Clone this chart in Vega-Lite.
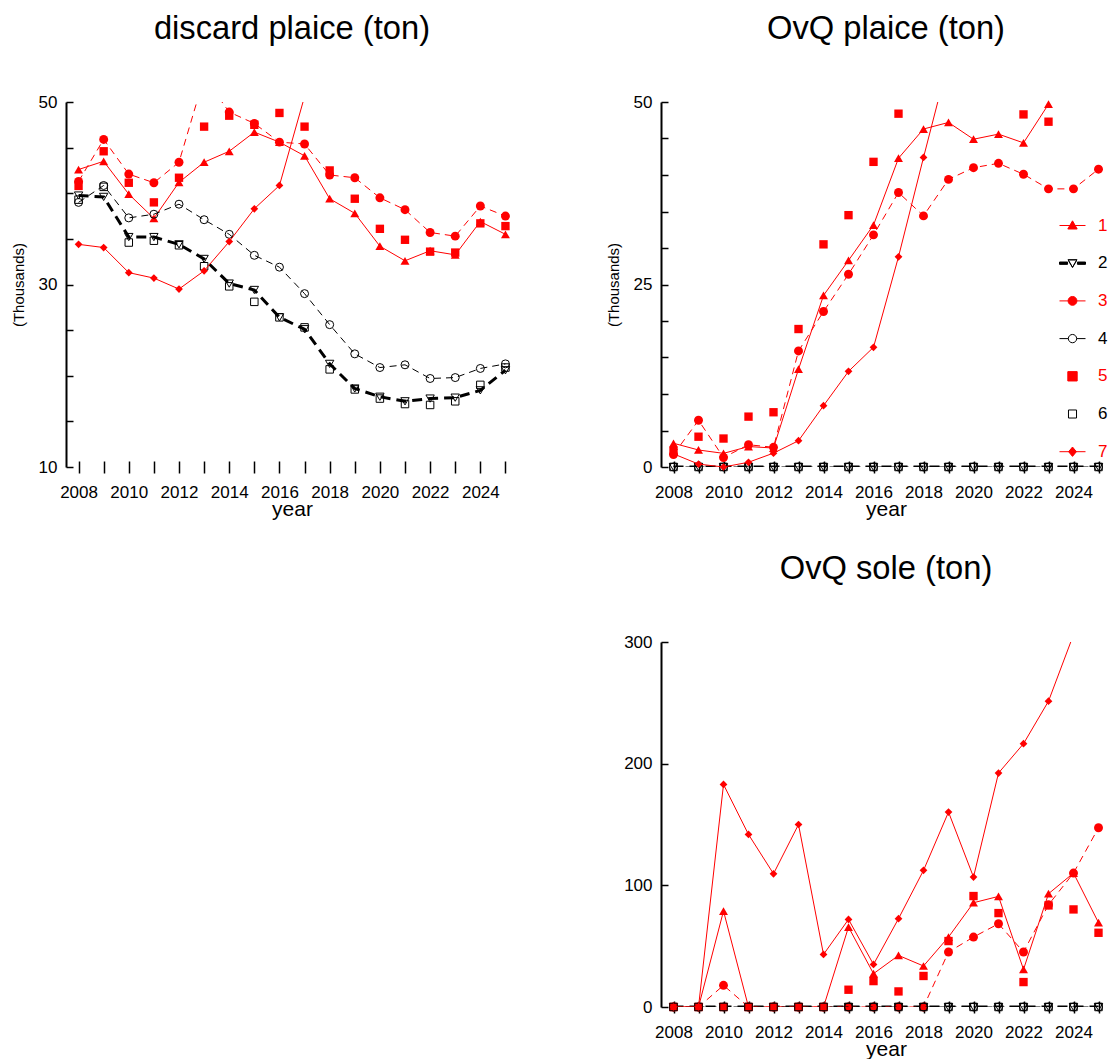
{
"$schema": "https://vega.github.io/schema/vega-lite/v6.json",
"background": "white",
"padding": {"left": 11, "top": 13, "right": 0, "bottom": 0},
"datasets": {
"d": [
{"s":"1","yr":2008,"v":42.6},{"s":"1","yr":2009,"v":43.5},{"s":"1","yr":2010,"v":39.9},{"s":"1","yr":2011,"v":37.25},{"s":"1","yr":2012,"v":41.2},{"s":"1","yr":2013,"v":43.4},{"s":"1","yr":2014,"v":44.6},{"s":"1","yr":2015,"v":46.7},{"s":"1","yr":2016,"v":45.6},{"s":"1","yr":2017,"v":44.1},{"s":"1","yr":2018,"v":39.4},{"s":"1","yr":2019,"v":37.8},{"s":"1","yr":2020,"v":34.2},{"s":"1","yr":2021,"v":32.6},{"s":"1","yr":2022,"v":33.7},{"s":"1","yr":2023,"v":33.25},{"s":"1","yr":2024,"v":36.9},{"s":"1","yr":2025,"v":35.5},
{"s":"2","yr":2008,"v":39.75},{"s":"2","yr":2009,"v":39.6},{"s":"2","yr":2010,"v":35.2},{"s":"2","yr":2011,"v":35.2},{"s":"2","yr":2012,"v":34.4},{"s":"2","yr":2013,"v":32.8},{"s":"2","yr":2014,"v":30.1},{"s":"2","yr":2015,"v":29.4},{"s":"2","yr":2016,"v":26.4},{"s":"2","yr":2017,"v":25.1},{"s":"2","yr":2018,"v":21.3},{"s":"2","yr":2019,"v":18.6},{"s":"2","yr":2020,"v":17.7},{"s":"2","yr":2021,"v":17.2},{"s":"2","yr":2022,"v":17.5},{"s":"2","yr":2023,"v":17.6},{"s":"2","yr":2024,"v":18.4},{"s":"2","yr":2025,"v":20.6},
{"s":"3","yr":2008,"v":41.3},{"s":"3","yr":2009,"v":45.9},{"s":"3","yr":2010,"v":42.1},{"s":"3","yr":2011,"v":41.15},{"s":"3","yr":2012,"v":43.4},{"s":"3","yr":2013,"v":52.7},{"s":"3","yr":2014,"v":48.9},{"s":"3","yr":2015,"v":47.65},{"s":"3","yr":2016,"v":45.6},{"s":"3","yr":2017,"v":45.4},{"s":"3","yr":2018,"v":42.0},{"s":"3","yr":2019,"v":41.7},{"s":"3","yr":2020,"v":39.5},{"s":"3","yr":2021,"v":38.2},{"s":"3","yr":2022,"v":35.7},{"s":"3","yr":2023,"v":35.3},{"s":"3","yr":2024,"v":38.6},{"s":"3","yr":2025,"v":37.5},
{"s":"4","yr":2008,"v":39.0},{"s":"4","yr":2009,"v":40.85},{"s":"4","yr":2010,"v":37.3},{"s":"4","yr":2011,"v":37.7},{"s":"4","yr":2012,"v":38.8},{"s":"4","yr":2013,"v":37.1},{"s":"4","yr":2014,"v":35.5},{"s":"4","yr":2015,"v":33.2},{"s":"4","yr":2016,"v":31.9},{"s":"4","yr":2017,"v":29.0},{"s":"4","yr":2018,"v":25.6},{"s":"4","yr":2019,"v":22.4},{"s":"4","yr":2020,"v":20.9},{"s":"4","yr":2021,"v":21.2},{"s":"4","yr":2022,"v":19.7},{"s":"4","yr":2023,"v":19.8},{"s":"4","yr":2024,"v":20.8},{"s":"4","yr":2025,"v":21.3},
{"s":"5","yr":2008,"v":40.8},{"s":"5","yr":2009,"v":44.6},{"s":"5","yr":2010,"v":41.15},{"s":"5","yr":2011,"v":39.0},{"s":"5","yr":2012,"v":41.7},{"s":"5","yr":2013,"v":47.3},{"s":"5","yr":2014,"v":48.5},{"s":"5","yr":2015,"v":47.5},{"s":"5","yr":2016,"v":48.8},{"s":"5","yr":2017,"v":47.3},{"s":"5","yr":2018,"v":42.5},{"s":"5","yr":2019,"v":39.4},{"s":"5","yr":2020,"v":36.1},{"s":"5","yr":2021,"v":34.9},{"s":"5","yr":2022,"v":33.6},{"s":"5","yr":2023,"v":33.5},{"s":"5","yr":2024,"v":36.7},{"s":"5","yr":2025,"v":36.4},
{"s":"6","yr":2008,"v":39.3},{"s":"6","yr":2009,"v":40.7},{"s":"6","yr":2010,"v":34.6},{"s":"6","yr":2011,"v":34.8},{"s":"6","yr":2012,"v":34.3},{"s":"6","yr":2013,"v":32.0},{"s":"6","yr":2014,"v":29.8},{"s":"6","yr":2015,"v":28.1},{"s":"6","yr":2016,"v":26.4},{"s":"6","yr":2017,"v":25.3},{"s":"6","yr":2018,"v":20.7},{"s":"6","yr":2019,"v":18.5},{"s":"6","yr":2020,"v":17.5},{"s":"6","yr":2021,"v":16.9},{"s":"6","yr":2022,"v":16.8},{"s":"6","yr":2023,"v":17.2},{"s":"6","yr":2024,"v":19.0},{"s":"6","yr":2025,"v":20.9},
{"s":"7","yr":2008,"v":34.4},{"s":"7","yr":2009,"v":34.05},{"s":"7","yr":2010,"v":31.3},{"s":"7","yr":2011,"v":30.7},{"s":"7","yr":2012,"v":29.5},{"s":"7","yr":2013,"v":31.5},{"s":"7","yr":2014,"v":34.7},{"s":"7","yr":2015,"v":38.3},{"s":"7","yr":2016,"v":40.85},{"s":"7","yr":2017,"v":50.6}
],
"o": [
{"s":"1","yr":2008,"v":3.25},{"s":"1","yr":2009,"v":2.33},{"s":"1","yr":2010,"v":1.87},{"s":"1","yr":2011,"v":2.8},{"s":"1","yr":2012,"v":2.6},{"s":"1","yr":2013,"v":13.4},{"s":"1","yr":2014,"v":23.5},{"s":"1","yr":2015,"v":28.3},{"s":"1","yr":2016,"v":33.15},{"s":"1","yr":2017,"v":42.3},{"s":"1","yr":2018,"v":46.3},{"s":"1","yr":2019,"v":47.2},{"s":"1","yr":2020,"v":44.9},{"s":"1","yr":2021,"v":45.6},{"s":"1","yr":2022,"v":44.4},{"s":"1","yr":2023,"v":49.7},
{"s":"2","yr":2008,"v":0},{"s":"2","yr":2009,"v":0},{"s":"2","yr":2010,"v":0},{"s":"2","yr":2011,"v":0},{"s":"2","yr":2012,"v":0},{"s":"2","yr":2013,"v":0},{"s":"2","yr":2014,"v":0},{"s":"2","yr":2015,"v":0},{"s":"2","yr":2016,"v":0},{"s":"2","yr":2017,"v":0},{"s":"2","yr":2018,"v":0},{"s":"2","yr":2019,"v":0},{"s":"2","yr":2020,"v":0},{"s":"2","yr":2021,"v":0},{"s":"2","yr":2022,"v":0},{"s":"2","yr":2023,"v":0},{"s":"2","yr":2024,"v":0},{"s":"2","yr":2025,"v":0},
{"s":"3","yr":2008,"v":1.7},{"s":"3","yr":2009,"v":6.4},{"s":"3","yr":2010,"v":1.3},{"s":"3","yr":2011,"v":3.05},{"s":"3","yr":2012,"v":2.7},{"s":"3","yr":2013,"v":15.9},{"s":"3","yr":2014,"v":21.3},{"s":"3","yr":2015,"v":26.4},{"s":"3","yr":2016,"v":31.8},{"s":"3","yr":2017,"v":37.6},{"s":"3","yr":2018,"v":34.4},{"s":"3","yr":2019,"v":39.4},{"s":"3","yr":2020,"v":41.0},{"s":"3","yr":2021,"v":41.6},{"s":"3","yr":2022,"v":40.1},{"s":"3","yr":2023,"v":38.1},{"s":"3","yr":2024,"v":38.1},{"s":"3","yr":2025,"v":40.8},
{"s":"4","yr":2008,"v":0},{"s":"4","yr":2009,"v":0},{"s":"4","yr":2010,"v":0},{"s":"4","yr":2011,"v":0},{"s":"4","yr":2012,"v":0},{"s":"4","yr":2013,"v":0},{"s":"4","yr":2014,"v":0},{"s":"4","yr":2015,"v":0},{"s":"4","yr":2016,"v":0},{"s":"4","yr":2017,"v":0},{"s":"4","yr":2018,"v":0},{"s":"4","yr":2019,"v":0},{"s":"4","yr":2020,"v":0},{"s":"4","yr":2021,"v":0},{"s":"4","yr":2022,"v":0},{"s":"4","yr":2023,"v":0},{"s":"4","yr":2024,"v":0},{"s":"4","yr":2025,"v":0},
{"s":"5","yr":2008,"v":2.2},{"s":"5","yr":2009,"v":4.15},{"s":"5","yr":2010,"v":3.9},{"s":"5","yr":2011,"v":6.9},{"s":"5","yr":2012,"v":7.5},{"s":"5","yr":2013,"v":18.9},{"s":"5","yr":2014,"v":30.5},{"s":"5","yr":2015,"v":34.5},{"s":"5","yr":2016,"v":41.8},{"s":"5","yr":2017,"v":48.4},{"s":"5","yr":2022,"v":48.3},{"s":"5","yr":2023,"v":47.3},
{"s":"6","yr":2008,"v":0},{"s":"6","yr":2009,"v":0},{"s":"6","yr":2010,"v":0},{"s":"6","yr":2011,"v":0},{"s":"6","yr":2012,"v":0},{"s":"6","yr":2013,"v":0},{"s":"6","yr":2014,"v":0},{"s":"6","yr":2015,"v":0},{"s":"6","yr":2016,"v":0},{"s":"6","yr":2017,"v":0},{"s":"6","yr":2018,"v":0},{"s":"6","yr":2019,"v":0},{"s":"6","yr":2020,"v":0},{"s":"6","yr":2021,"v":0},{"s":"6","yr":2022,"v":0},{"s":"6","yr":2023,"v":0},{"s":"6","yr":2024,"v":0},{"s":"6","yr":2025,"v":0},
{"s":"7","yr":2008,"v":1.8},{"s":"7","yr":2009,"v":0.4},{"s":"7","yr":2010,"v":0},{"s":"7","yr":2011,"v":0.65},{"s":"7","yr":2012,"v":1.9},{"s":"7","yr":2013,"v":3.6},{"s":"7","yr":2014,"v":8.4},{"s":"7","yr":2015,"v":13.1},{"s":"7","yr":2016,"v":16.4},{"s":"7","yr":2017,"v":28.8},{"s":"7","yr":2018,"v":42.4},{"s":"7","yr":2019,"v":55.7}
],
"s": [
{"s":"1","yr":2008,"v":0},{"s":"1","yr":2009,"v":0},{"s":"1","yr":2010,"v":78.9},{"s":"1","yr":2011,"v":0},{"s":"1","yr":2012,"v":0},{"s":"1","yr":2013,"v":0},{"s":"1","yr":2014,"v":0},{"s":"1","yr":2015,"v":65.7},{"s":"1","yr":2016,"v":27.4},{"s":"1","yr":2017,"v":42.4},{"s":"1","yr":2018,"v":33.7},{"s":"1","yr":2019,"v":57.5},{"s":"1","yr":2020,"v":85.7},{"s":"1","yr":2021,"v":90.9},{"s":"1","yr":2022,"v":30.9},{"s":"1","yr":2023,"v":93.1},{"s":"1","yr":2024,"v":110.1},{"s":"1","yr":2025,"v":69.3},
{"s":"2","yr":2008,"v":0},{"s":"2","yr":2009,"v":0},{"s":"2","yr":2010,"v":0},{"s":"2","yr":2011,"v":0},{"s":"2","yr":2012,"v":0},{"s":"2","yr":2013,"v":0},{"s":"2","yr":2014,"v":0},{"s":"2","yr":2015,"v":0},{"s":"2","yr":2016,"v":0},{"s":"2","yr":2017,"v":0},{"s":"2","yr":2018,"v":0},{"s":"2","yr":2019,"v":0},{"s":"2","yr":2020,"v":0},{"s":"2","yr":2021,"v":0},{"s":"2","yr":2022,"v":0},{"s":"2","yr":2023,"v":0},{"s":"2","yr":2024,"v":0},{"s":"2","yr":2025,"v":0},
{"s":"3","yr":2008,"v":0},{"s":"3","yr":2009,"v":0},{"s":"3","yr":2010,"v":17.8},{"s":"3","yr":2011,"v":0},{"s":"3","yr":2012,"v":0},{"s":"3","yr":2013,"v":0},{"s":"3","yr":2014,"v":0},{"s":"3","yr":2015,"v":0},{"s":"3","yr":2016,"v":0},{"s":"3","yr":2017,"v":0},{"s":"3","yr":2018,"v":0},{"s":"3","yr":2019,"v":45.2},{"s":"3","yr":2020,"v":57.5},{"s":"3","yr":2021,"v":68.4},{"s":"3","yr":2022,"v":45.2},{"s":"3","yr":2023,"v":84},{"s":"3","yr":2024,"v":110.1},{"s":"3","yr":2025,"v":147.3},
{"s":"4","yr":2008,"v":0},{"s":"4","yr":2009,"v":0},{"s":"4","yr":2010,"v":0},{"s":"4","yr":2011,"v":0},{"s":"4","yr":2012,"v":0},{"s":"4","yr":2013,"v":0},{"s":"4","yr":2014,"v":0},{"s":"4","yr":2015,"v":0},{"s":"4","yr":2016,"v":0},{"s":"4","yr":2017,"v":0},{"s":"4","yr":2018,"v":0},{"s":"4","yr":2019,"v":0},{"s":"4","yr":2020,"v":0},{"s":"4","yr":2021,"v":0},{"s":"4","yr":2022,"v":0},{"s":"4","yr":2023,"v":0},{"s":"4","yr":2024,"v":0},{"s":"4","yr":2025,"v":0},
{"s":"5","yr":2008,"v":0},{"s":"5","yr":2009,"v":0},{"s":"5","yr":2010,"v":0},{"s":"5","yr":2011,"v":0},{"s":"5","yr":2012,"v":0},{"s":"5","yr":2013,"v":0},{"s":"5","yr":2014,"v":0},{"s":"5","yr":2015,"v":14.2},{"s":"5","yr":2016,"v":21.3},{"s":"5","yr":2017,"v":12.8},{"s":"5","yr":2018,"v":25.5},{"s":"5","yr":2019,"v":54.2},{"s":"5","yr":2020,"v":91.2},{"s":"5","yr":2021,"v":77.2},{"s":"5","yr":2022,"v":20.5},{"s":"5","yr":2023,"v":83.5},{"s":"5","yr":2024,"v":80.2},{"s":"5","yr":2025,"v":61.0},
{"s":"6","yr":2008,"v":0},{"s":"6","yr":2009,"v":0},{"s":"6","yr":2010,"v":0},{"s":"6","yr":2011,"v":0},{"s":"6","yr":2012,"v":0},{"s":"6","yr":2013,"v":0},{"s":"6","yr":2014,"v":0},{"s":"6","yr":2015,"v":0},{"s":"6","yr":2016,"v":0},{"s":"6","yr":2017,"v":0},{"s":"6","yr":2018,"v":0},{"s":"6","yr":2019,"v":0},{"s":"6","yr":2020,"v":0},{"s":"6","yr":2021,"v":0},{"s":"6","yr":2022,"v":0},{"s":"6","yr":2023,"v":0},{"s":"6","yr":2024,"v":0},{"s":"6","yr":2025,"v":0},
{"s":"7","yr":2008,"v":0},{"s":"7","yr":2009,"v":0},{"s":"7","yr":2010,"v":182.9},{"s":"7","yr":2011,"v":141.8},{"s":"7","yr":2012,"v":109.5},{"s":"7","yr":2013,"v":150.0},{"s":"7","yr":2014,"v":43.2},{"s":"7","yr":2015,"v":72.0},{"s":"7","yr":2016,"v":35.0},{"s":"7","yr":2017,"v":72.6},{"s":"7","yr":2018,"v":112.3},{"s":"7","yr":2019,"v":160.2},{"s":"7","yr":2020,"v":106.8},{"s":"7","yr":2021,"v":192.3},{"s":"7","yr":2022,"v":216.4},{"s":"7","yr":2023,"v":251.4},{"s":"7","yr":2024,"v":306}
]
},
"config": {
  "view": {"stroke": null},
  "font": "Liberation Sans",
  "axis": {"labelFont": "Liberation Sans", "titleFont": "Liberation Sans", "labelColor": "#000000", "titleColor": "#000000", "domainColor": "#000000", "tickColor": "#000000", "grid": false, "labelFontSize": 17, "titleFontWeight": "normal", "labelOverlap": false, "labelFlush": false},
  "title": {"font": "Liberation Sans", "fontSize": 32.7, "fontWeight": "normal", "color": "#000000", "offset": 47, "anchor": "middle", "frame": "group"},
  "legend": {"labelFont": "Liberation Sans"}
},
"hconcat": [
{
  "width": 452, "height": 365,
  "title": "discard plaice (ton)",
  "data": {"name": "d"},
  "encoding": {
    "x": {"field": "yr", "type": "quantitative", "scale": {"domain": [2007.5, 2025.5], "nice": false, "zero": false},
      "axis": {"values": [2008,2009,2010,2011,2012,2013,2014,2015,2016,2017,2018,2019,2020,2021,2022,2023,2024,2025], "format": "d", "labelExpr": "datum.value % 2 == 0 ? datum.label : ''", "domain": false, "offset": -6, "tickSize": 12, "tickWidth": 1.5, "labelPadding": 11, "title": "year", "titleFontSize": 21, "titlePadding": -2}},
    "y": {"field": "v", "type": "quantitative", "scale": {"domain": [10, 50], "nice": false, "zero": false},
      "axis": {"values": [10,15,20,25,30,35,40,45,50], "labelExpr": "datum.value % 20 == 10 ? datum.label : ''", "tickSize": -7, "tickWidth": 1.5, "domainWidth": 2, "labelPadding": 16, "title": "(Thousands)", "titleFontSize": 15, "titlePadding": 12}}
  },
  "layer": [
    {"data": {"values": [{}]}, "mark": {"type": "rule", "color": "#000000", "strokeWidth": 2}, "encoding": {"x": {"datum": 2007.5}, "x2": {"datum": 2025.5}, "y": {"datum": 10}}},
    {"transform": [{"filter": "datum.s == '1'"}], "mark": {"type": "line", "color": "#ff0000", "strokeWidth": 1, "clip": true}, "encoding": {}},
    {"transform": [{"filter": "datum.s == '1' && datum.v <= 50"}], "mark": {"type": "point", "shape": "triangle-up", "size": 80, "filled": true, "color": "#ff0000", "opacity": 1}},
    {"transform": [{"filter": "datum.s == '2'"}], "mark": {"type": "line", "color": "#000000", "strokeWidth": 3, "strokeDash": [10, 6], "clip": true}, "encoding": {}},
    {"transform": [{"filter": "datum.s == '2' && datum.v <= 50"}], "mark": {"type": "point", "shape": "triangle-down", "size": 70, "filled": false, "color": "#000000", "strokeWidth": 1, "opacity": 1}},
    {"transform": [{"filter": "datum.s == '3'"}], "mark": {"type": "line", "color": "#ff0000", "strokeWidth": 1, "strokeDash": [7, 5], "clip": true}, "encoding": {}},
    {"transform": [{"filter": "datum.s == '3' && datum.v <= 50"}], "mark": {"type": "point", "shape": "circle", "size": 80, "filled": true, "color": "#ff0000", "opacity": 1}},
    {"transform": [{"filter": "datum.s == '4'"}], "mark": {"type": "line", "color": "#000000", "strokeWidth": 1, "strokeDash": [7, 5], "clip": true}, "encoding": {}},
    {"transform": [{"filter": "datum.s == '4' && datum.v <= 50"}], "mark": {"type": "point", "shape": "circle", "size": 64, "filled": false, "color": "#000000", "strokeWidth": 1, "opacity": 1}},
    {"transform": [{"filter": "datum.s == '5' && datum.v <= 50"}], "mark": {"type": "point", "shape": "square", "size": 70, "filled": true, "color": "#ff0000", "opacity": 1}},
    {"transform": [{"filter": "datum.s == '6' && datum.v <= 50"}], "mark": {"type": "point", "shape": "square", "size": 56, "filled": false, "color": "#000000", "strokeWidth": 1, "opacity": 1}},
    {"transform": [{"filter": "datum.s == '7'"}], "mark": {"type": "line", "color": "#ff0000", "strokeWidth": 1, "clip": true}, "encoding": {}},
    {"transform": [{"filter": "datum.s == '7' && datum.v <= 50"}], "mark": {"type": "point", "shape": "diamond", "size": 60, "filled": true, "color": "#ff0000", "opacity": 1}}
  ]
},
{
  "spacing": 175,
  "bounds": "flush",
  "vconcat": [
  {
    "width": 450, "height": 365,
    "title": "OvQ plaice (ton)",
    "data": {"name": "o"},
    "encoding": {
      "x": {"field": "yr", "type": "quantitative", "scale": {"domain": [2007.5, 2025.5], "nice": false, "zero": false},
        "axis": {"values": [2008,2009,2010,2011,2012,2013,2014,2015,2016,2017,2018,2019,2020,2021,2022,2023,2024,2025], "format": "d", "labelExpr": "datum.value % 2 == 0 ? datum.label : ''", "domain": false, "offset": -6, "tickSize": 12, "tickWidth": 1.5, "labelPadding": 11, "title": "year", "titleFontSize": 21, "titlePadding": -2}},
      "y": {"field": "v", "type": "quantitative", "scale": {"domain": [0, 50], "nice": false, "zero": false},
        "axis": {"values": [0,5,10,15,20,25,30,35,40,45,50], "labelExpr": "datum.value % 25 == 0 ? datum.label : ''", "tickSize": -7, "tickWidth": 1.5, "domainWidth": 2, "labelPadding": 16, "title": "(Thousands)", "titleFontSize": 15, "titlePadding": 12}}
    },
    "layer": [
      {"data": {"values": [{}]}, "mark": {"type": "rule", "color": "#000000", "strokeWidth": 2}, "encoding": {"x": {"datum": 2007.5}, "x2": {"datum": 2025.5}, "y": {"datum": 0}}},
      {"transform": [{"filter": "datum.s == '1'"}], "mark": {"type": "line", "color": "#ff0000", "strokeWidth": 1, "clip": true}, "encoding": {}},
      {"transform": [{"filter": "datum.s == '1' && datum.v <= 50"}], "mark": {"type": "point", "shape": "triangle-up", "size": 80, "filled": true, "color": "#ff0000", "opacity": 1}},
      {"transform": [{"filter": "datum.s == '2'"}], "mark": {"type": "line", "color": "#000000", "strokeWidth": 3, "strokeDash": [10, 6], "clip": true}, "encoding": {}},
      {"transform": [{"filter": "datum.s == '2' && datum.v <= 50"}], "mark": {"type": "point", "shape": "triangle-down", "size": 70, "filled": false, "color": "#000000", "strokeWidth": 1, "opacity": 1}},
      {"transform": [{"filter": "datum.s == '3'"}], "mark": {"type": "line", "color": "#ff0000", "strokeWidth": 1, "strokeDash": [7, 5], "clip": true}, "encoding": {}},
      {"transform": [{"filter": "datum.s == '3' && datum.v <= 50"}], "mark": {"type": "point", "shape": "circle", "size": 80, "filled": true, "color": "#ff0000", "opacity": 1}},
      {"transform": [{"filter": "datum.s == '4'"}], "mark": {"type": "line", "color": "#000000", "strokeWidth": 1, "strokeDash": [7, 5], "clip": true}, "encoding": {}},
      {"transform": [{"filter": "datum.s == '4' && datum.v <= 50"}], "mark": {"type": "point", "shape": "circle", "size": 64, "filled": false, "color": "#000000", "strokeWidth": 1, "opacity": 1}},
      {"transform": [{"filter": "datum.s == '5' && datum.v <= 50"}], "mark": {"type": "point", "shape": "square", "size": 70, "filled": true, "color": "#ff0000", "opacity": 1}},
      {"transform": [{"filter": "datum.s == '6' && datum.v <= 50"}], "mark": {"type": "point", "shape": "square", "size": 56, "filled": false, "color": "#000000", "strokeWidth": 1, "opacity": 1}},
      {"transform": [{"filter": "datum.s == '7'"}], "mark": {"type": "line", "color": "#ff0000", "strokeWidth": 1, "clip": true}, "encoding": {}},
      {"transform": [{"filter": "datum.s == '7' && datum.v <= 50"}], "mark": {"type": "point", "shape": "diamond", "size": 60, "filled": true, "color": "#ff0000", "opacity": 1}},
      {"transform": [{"filter": "datum.v <= 50"}], "mark": {"type": "point", "opacity": 0, "size": 676, "clip": true},
        "encoding": {
          "shape": {"field": "s", "type": "nominal",
            "scale": {"domain": ["1","2","3","4","5","6","7"], "range": [
              "M-1,0H1M0,-0.36L0.36,0.27L-0.36,0.27Z",
              "M-1,-0.09H-0.38V0.09H-1ZM0.38,-0.09H1V0.09H0.38ZM-0.34,-0.26H0.34L0,0.32ZM-0.34,-0.26L0,0.32L0.34,-0.26Z",
              "M-1,0H1M-0.34,0A0.34,0.34,0,1,1,0.34,0A0.34,0.34,0,1,1,-0.34,0Z",
              "M-1,0H-0.32M0.32,0H1M-0.32,0A0.32,0.32,0,1,1,0.32,0A0.32,0.32,0,1,1,-0.32,0",
              "M-0.36,-0.36H0.36V0.36H-0.36Z",
              "M-0.31,-0.31H0.31V0.31H-0.31Z",
              "M-1,0H1M0,-0.36L0.3,0L0,0.36L-0.3,0Z"]},
            "legend": {"title": null, "orient": "none", "direction": "vertical", "legendX": 993, "legendY": 110, "padding": 0, "symbolSize": 676, "symbolStrokeWidth": 1, "symbolOpacity": 1, "symbolFillColor": "#ff0000", "symbolStrokeColor": "#ff0000", "labelFontSize": 17, "labelOffset": 12, "rowPadding": 15.7, "labelColor": {"expr": "(datum.value == '2' || datum.value == '4' || datum.value == '6') ? '#000000' : '#ff0000'"}}},
          "fill": {"field": "s", "type": "nominal",
            "scale": {"domain": ["1","2","3","4","5","6","7"], "range": ["#ff0000","#000000","#ff0000","transparent","#ff0000","transparent","#ff0000"]},
            "legend": {"title": null, "orient": "none", "direction": "vertical", "legendX": 993, "legendY": 110, "padding": 0, "symbolSize": 676, "symbolStrokeWidth": 1, "symbolOpacity": 1, "symbolFillColor": "#ff0000", "symbolStrokeColor": "#ff0000", "labelFontSize": 17, "labelOffset": 12, "rowPadding": 15.7, "labelColor": {"expr": "(datum.value == '2' || datum.value == '4' || datum.value == '6') ? '#000000' : '#ff0000'"}}},
          "stroke": {"field": "s", "type": "nominal",
            "scale": {"domain": ["1","2","3","4","5","6","7"], "range": ["#ff0000","#000000","#ff0000","#000000","#ff0000","#000000","#ff0000"]},
            "legend": {"title": null, "orient": "none", "direction": "vertical", "legendX": 993, "legendY": 110, "padding": 0, "symbolSize": 676, "symbolStrokeWidth": 1, "symbolOpacity": 1, "symbolFillColor": "#ff0000", "symbolStrokeColor": "#ff0000", "labelFontSize": 17, "labelOffset": 12, "rowPadding": 15.7, "labelColor": {"expr": "(datum.value == '2' || datum.value == '4' || datum.value == '6') ? '#000000' : '#ff0000'"}}}
        }}
    ]
  },
  {
    "width": 450, "height": 365,
    "title": "OvQ sole (ton)",
    "data": {"name": "s"},
    "encoding": {
      "x": {"field": "yr", "type": "quantitative", "scale": {"domain": [2007.5, 2025.5], "nice": false, "zero": false},
        "axis": {"values": [2008,2009,2010,2011,2012,2013,2014,2015,2016,2017,2018,2019,2020,2021,2022,2023,2024,2025], "format": "d", "labelExpr": "datum.value % 2 == 0 ? datum.label : ''", "domain": false, "offset": -6, "tickSize": 12, "tickWidth": 1.5, "labelPadding": 11, "title": "year", "titleFontSize": 21, "titlePadding": -2}},
      "y": {"field": "v", "type": "quantitative", "scale": {"domain": [0, 300], "nice": false, "zero": false},
        "axis": {"values": [0,100,200,300], "tickSize": -7, "tickWidth": 1.5, "domainWidth": 2, "labelPadding": 16, "title": null}}
    },
    "layer": [
      {"data": {"values": [{}]}, "mark": {"type": "rule", "color": "#000000", "strokeWidth": 2}, "encoding": {"x": {"datum": 2007.5}, "x2": {"datum": 2025.5}, "y": {"datum": 0}}},
      {"transform": [{"filter": "datum.s == '1'"}], "mark": {"type": "line", "color": "#ff0000", "strokeWidth": 1, "clip": true}, "encoding": {}},
      {"transform": [{"filter": "datum.s == '1' && datum.v <= 300"}], "mark": {"type": "point", "shape": "triangle-up", "size": 80, "filled": true, "color": "#ff0000", "opacity": 1}},
      {"transform": [{"filter": "datum.s == '2'"}], "mark": {"type": "line", "color": "#000000", "strokeWidth": 3, "strokeDash": [10, 6], "clip": true}, "encoding": {}},
      {"transform": [{"filter": "datum.s == '2' && datum.v <= 300"}], "mark": {"type": "point", "shape": "triangle-down", "size": 70, "filled": false, "color": "#000000", "strokeWidth": 1, "opacity": 1}},
      {"transform": [{"filter": "datum.s == '3'"}], "mark": {"type": "line", "color": "#ff0000", "strokeWidth": 1, "strokeDash": [7, 5], "clip": true}, "encoding": {}},
      {"transform": [{"filter": "datum.s == '3' && datum.v <= 300"}], "mark": {"type": "point", "shape": "circle", "size": 80, "filled": true, "color": "#ff0000", "opacity": 1}},
      {"transform": [{"filter": "datum.s == '4'"}], "mark": {"type": "line", "color": "#000000", "strokeWidth": 1, "strokeDash": [7, 5], "clip": true}, "encoding": {}},
      {"transform": [{"filter": "datum.s == '4' && datum.v <= 300"}], "mark": {"type": "point", "shape": "circle", "size": 64, "filled": false, "color": "#000000", "strokeWidth": 1, "opacity": 1}},
      {"transform": [{"filter": "datum.s == '5' && datum.v <= 300"}], "mark": {"type": "point", "shape": "square", "size": 70, "filled": true, "color": "#ff0000", "opacity": 1}},
      {"transform": [{"filter": "datum.s == '6' && datum.v <= 300"}], "mark": {"type": "point", "shape": "square", "size": 56, "filled": false, "color": "#000000", "strokeWidth": 1, "opacity": 1}},
      {"transform": [{"filter": "datum.s == '7'"}], "mark": {"type": "line", "color": "#ff0000", "strokeWidth": 1, "clip": true}, "encoding": {}},
      {"transform": [{"filter": "datum.s == '7' && datum.v <= 300"}], "mark": {"type": "point", "shape": "diamond", "size": 60, "filled": true, "color": "#ff0000", "opacity": 1}}
    ]
  }
  ]
}
],
"spacing": 143,
"bounds": "flush"
}
